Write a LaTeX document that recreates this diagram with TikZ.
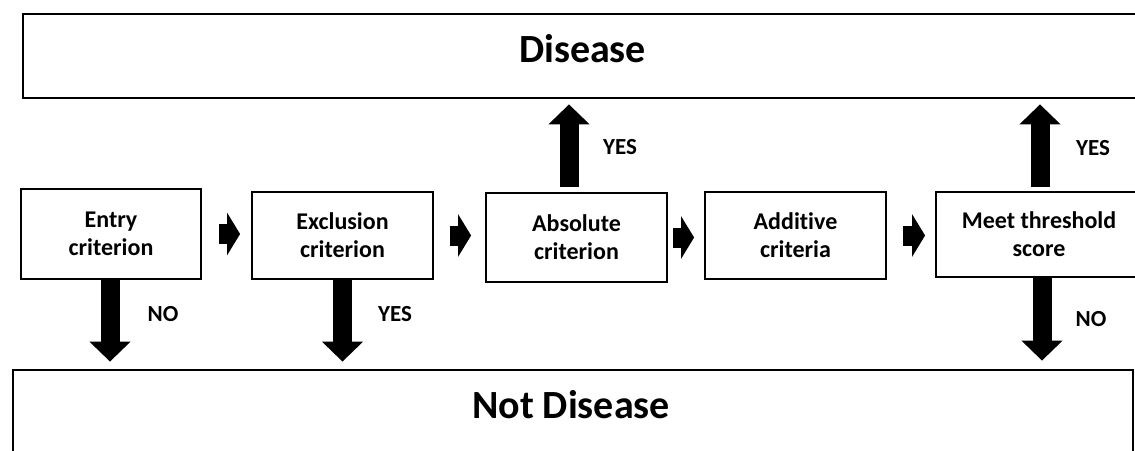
\documentclass[tikz,border=0pt]{standalone}
\usepackage{fontspec}
\setmainfont[Ligatures={NoCommon}]{Carlito}
\usetikzlibrary{arrows.meta}
\tikzset{
  bigbox/.style={draw, line width=2.8pt, inner sep=0pt},
  critbox/.style={draw, line width=1.8pt, align=center, inner sep=0pt, font=\bfseries\fontsize{24}{28}\selectfont},
  bigarr/.style={line width=19pt, -{Triangle[width=40pt,length=20pt]}},
  smallarr/.style={line width=20pt, -{Triangle[width=42pt,length=13pt]}},
  lbl/.style={font=\bfseries\fontsize{23}{27}\selectfont, inner sep=0pt},
  ttl/.style={font=\bfseries\fontsize{40}{48}\selectfont, inner sep=0pt, anchor=base}
}
\begin{document}
\begin{tikzpicture}[x=1pt,y=-1pt]
\useasboundingbox (0,0) rectangle (1135,450);
\clip (0,0) rectangle (1135,450);
% big boxes
\node[bigbox, minimum width=1119pt, minimum height=84pt] (dis) at (582.5,56) {};
\node[ttl] (distxt) at (582.5,62) {Disease};
\node[bigbox, minimum width=1120pt, minimum height=90pt] (notdis) at (573,415) {};
\node[ttl] (notdistxt) at (571,418) {Not Disease};
% criteria boxes
\node[critbox, minimum width=180pt, minimum height=90pt] (entry) at (111,234) {Entry\\criterion};
\node[critbox, minimum width=181pt, minimum height=87pt] (excl) at (342.5,235.5) {Exclusion\\criterion};
\node[critbox, minimum width=181pt, minimum height=89pt] (abs) at (576.5,237.5) {Absolute\\criterion};
\node[critbox, minimum width=181pt, minimum height=87pt] (add) at (795.5,235.5) {Additive\\criteria};
\node[critbox, minimum width=206pt, minimum height=85pt] (meet) at (1039,234.5) {Meet threshold\\score};
% small arrows
\draw[smallarr] ([xshift=17pt]entry.east) -- ([xshift=-11pt]entry.east -| excl.west);
\draw[smallarr] ([xshift=16pt]excl.east) -- ([xshift=-14pt]excl.east -| abs.west);
\draw[smallarr] ([xshift=5pt]abs.east) -- ([xshift=-10pt]abs.east -| add.west);
\draw[smallarr] ([xshift=16pt]add.east) -- ([xshift=-10pt]add.east -| meet.west);
% big arrows
\draw[bigarr] ([xshift=-1pt]entry.south) -- ([xshift=-1pt,yshift=7pt]entry.south |- notdis.north);
\draw[bigarr] (excl.south) -- ([yshift=7pt]excl.south |- notdis.north);
\draw[bigarr] ([xshift=-7.5pt,yshift=5pt]abs.north) -- ([xshift=-7.5pt,yshift=-5pt]abs.north |- dis.south);
\draw[bigarr] ([xshift=1pt,yshift=4pt]meet.north) -- ([xshift=1pt,yshift=-5pt]meet.north |- dis.south);
\draw[bigarr] ([xshift=3pt]meet.south) -- ([xshift=3pt,yshift=8pt]meet.south |- notdis.north);
% labels
\node[lbl] (lno1) at (163,314.5) {NO};
\node[lbl] (lyes1) at (395,314) {YES};
\node[lbl] (lyes2) at (620,147.5) {YES};
\node[lbl] (lyes3) at (1093,148) {YES};
\node[lbl] (lno2) at (1091,319) {NO};
\end{tikzpicture}
\end{document}
